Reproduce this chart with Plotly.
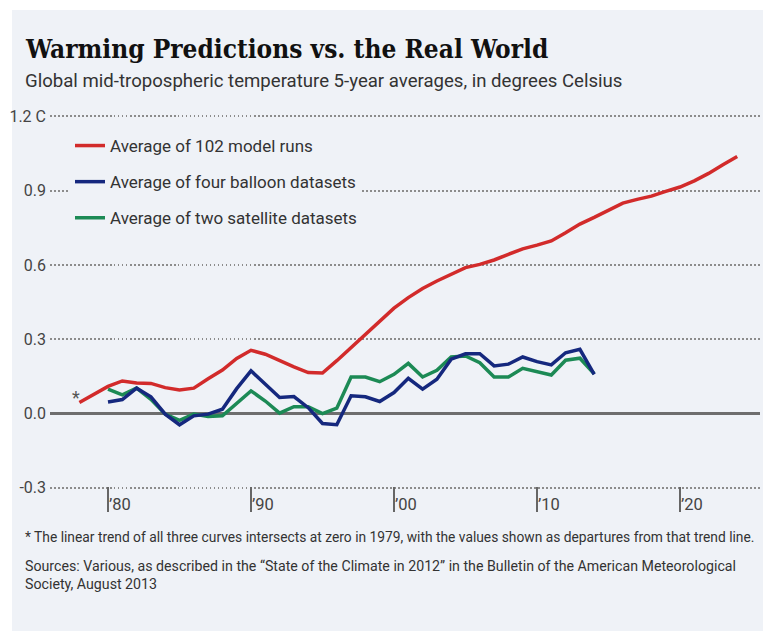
import plotly.graph_objects as go

# ---------------- data ----------------
model_years = list(range(1978, 2025))
model_runs = [0.044, 0.078, 0.109, 0.131, 0.123, 0.121, 0.104, 0.095, 0.102, 0.140,
              0.175, 0.222, 0.255, 0.239, 0.212, 0.188, 0.165, 0.163, 0.213, 0.266,
              0.320, 0.376, 0.425, 0.468, 0.505, 0.535, 0.563, 0.589, 0.602, 0.620,
              0.643, 0.665, 0.680, 0.697, 0.730, 0.765, 0.792, 0.822, 0.850, 0.865,
              0.878, 0.897, 0.915, 0.940, 0.970, 1.005, 1.038]

obs_years = list(range(1980, 2015))
balloon = [0.046, 0.056, 0.102, 0.067, -0.003, -0.046, -0.010, -0.003, 0.017, 0.100,
           0.172, 0.120, 0.064, 0.068, 0.023, -0.041, -0.046, 0.071, 0.067, 0.048,
           0.084, 0.142, 0.098, 0.138, 0.219, 0.241, 0.241, 0.192, 0.199, 0.228,
           0.209, 0.196, 0.245, 0.259, 0.158]
satellite = [0.098, 0.075, 0.102, 0.057, -0.003, -0.028, -0.003, -0.013, -0.010, 0.040,
             0.091, 0.050, 0.001, 0.027, 0.027, -0.001, 0.021, 0.147, 0.147, 0.128,
             0.158, 0.202, 0.147, 0.174, 0.228, 0.232, 0.205, 0.147, 0.147, 0.182,
             0.169, 0.155, 0.215, 0.223, 0.160]

series_names = ["Average of 102 model runs", "Average of four balloon datasets",
                "Average of two satellite datasets"]
series_colors = ["#D22B2B", "#15287E", "#1C8A55"]

x_tickvals = [1980, 1990, 2000, 2010, 2020]
x_ticktext = ["\u201980", "\u201990", "\u201900", "\u201910", "\u201920"]
y_tickvals = [-0.3, 0.0, 0.3, 0.6, 0.9, 1.2]
y_ticktext = ["-0.3", "0.0", "0.3", "0.6", "0.9", "1.2 C"]

title = "Warming Predictions vs. the Real World"
subtitle = "Global mid-tropospheric temperature 5-year averages, in degrees Celsius"
footnote = ("* The linear trend of all three curves intersects at zero in 1979, "
            "with the values shown as departures from that trend line.")
sources = ("Sources: Various, as described in the \u201cState of the Climate in 2012\u201d "
           "in the Bulletin of the American Meteorological<br>Society, August 2013")

# ---------------- layout geometry ----------------
W, H = 763, 631
ML, MR, MT, MB = 50, 3, 114, 119
PW, PH = W - ML - MR, H - MT - MB
PANEL = "#EFF2F7"
SANS = "Roboto, Arial, sans-serif"


def px(x):
    return (x - ML) / PW


def py(y):
    return (H - MB - y) / PH


fig = go.Figure()
# draw order: satellite, balloon, model
for name, xs, ys, col, rank in [
    (series_names[2], obs_years, satellite, series_colors[2], 3),
    (series_names[1], obs_years, balloon, series_colors[1], 2),
    (series_names[0], model_years, model_runs, series_colors[0], 1),
]:
    fig.add_trace(go.Scatter(x=xs, y=ys, mode="lines", name=name,
                             line=dict(color=col, width=3.5),
                             legendrank=rank, legendgroup=name,
                             hoverinfo="skip"))

fig.add_shape(type="rect", xref="paper", yref="paper",
              x0=px(12), x1=px(W + 10), y0=py(H + 10), y1=py(10),
              fillcolor=PANEL, line=dict(width=0), layer="below")

xr0 = 1980 - (108 - ML) / 14.3
fig.update_xaxes(range=[xr0, xr0 + PW / 14.3], showgrid=False, zeroline=False,
                 showline=False, tickvals=x_tickvals, ticktext=x_ticktext,
                 ticks="inside", ticklen=25, tickwidth=2, tickcolor="#666666",
                 ticklabelposition="inside right", ticklabelstandoff=-7,
                 tickfont=dict(family=SANS, size=16.5, color="#444444"))
fig.update_yaxes(range=[-0.3986, 1.21], showgrid=True, gridcolor="#8C8C8C",
                 gridwidth=1.5, griddash="1.5px,2.5px",
                 zeroline=True, zerolinecolor="#6E6E6E", zerolinewidth=2.5,
                 showline=False, tickvals=y_tickvals, ticktext=y_ticktext,
                 ticks="", ticklabelstandoff=3,
                 tickfont=dict(family=SANS, size=16, color="#444444"))

ann = []
ann.append(dict(text="<b>" + title + "</b>", x=px(23), y=py(32), xanchor="left",
                yanchor="top", font=dict(family="DejaVu Serif Condensed, Liberation Serif, serif",
                                         size=26, color="#111111")))
ann.append(dict(text=subtitle, x=px(23), y=py(81), xanchor="left", yanchor="middle",
                font=dict(family=SANS, size=18.6, color="#333333")))
ann.append(dict(text=footnote, x=px(23), y=py(537), xanchor="left", yanchor="middle",
                font=dict(family=SANS, size=13.8, color="#333333")))
ann.append(dict(text=sources, x=px(23), y=py(575), xanchor="left", yanchor="middle",
                align="left", font=dict(family=SANS, size=14.2, color="#333333")))
for a in ann:
    a.update(xref="paper", yref="paper", showarrow=False)
ann.append(dict(text="*", x=1977.75, y=0.065, xref="x", yref="y", showarrow=False,
                font=dict(family=SANS, size=18, color="#555555")))

fig.update_layout(
    width=W, height=H, margin=dict(l=ML, r=MR, t=MT, b=MB),
    paper_bgcolor="white", plot_bgcolor="rgba(0,0,0,0)",
    annotations=ann,
    legend=dict(x=px(70), y=py(128), xanchor="left", yanchor="top",
                bgcolor=PANEL, borderwidth=0, traceorder="grouped",
                tracegroupgap=11, itemwidth=30,
                font=dict(family=SANS, size=17, color="#333333")),
    showlegend=True,
)

fig.write_html("out.html", config={"displayModeBar": False},
               post_script="document.body.style.margin='0';document.body.style.overflow='hidden';")
